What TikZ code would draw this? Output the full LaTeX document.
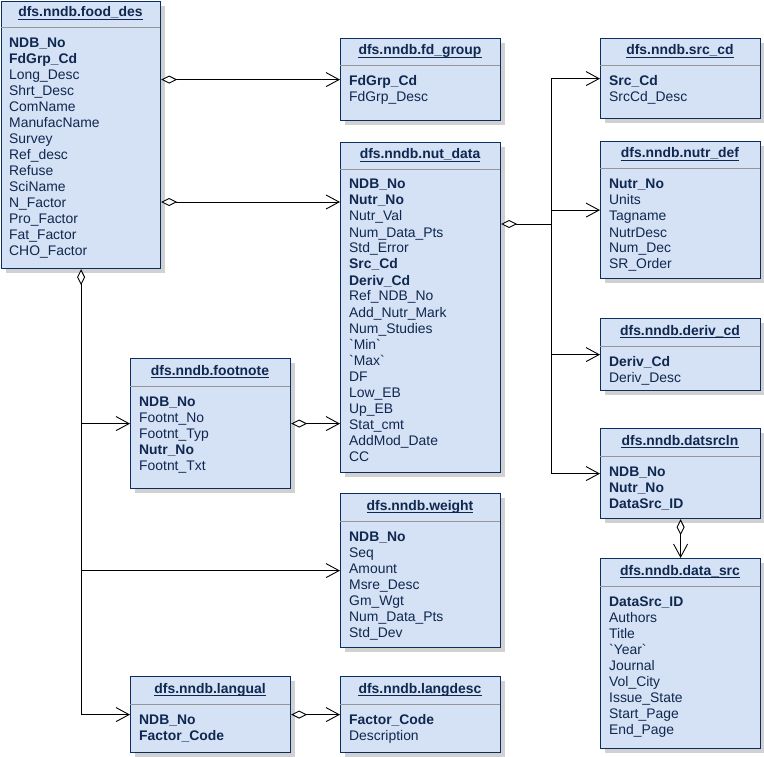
\documentclass[tikz,border=0pt]{standalone}
\usepackage{fontspec}
\setmainfont{Liberation Sans}
\usetikzlibrary{arrows.meta,shadows}
\definecolor{tblfill}{RGB}{213,225,244}
\definecolor{tbldraw}{RGB}{12,45,95}
\definecolor{tbltext}{RGB}{15,40,80}
\definecolor{tblsep}{RGB}{150,150,150}
\newcommand{\tblfont}{\fontsize{13.9}{16}\selectfont}
\tikzset{
  tbl/.style={draw=tbldraw, fill=tblfill, line width=1.2pt, inner sep=0pt, anchor=north west,
    drop shadow={shadow xshift=4pt, shadow yshift=-4pt, fill=black!18, opacity=1}},
  ttl/.style={anchor=base, inner sep=0pt, text=tbltext, font=\tblfont\bfseries},
  ttlline/.style={draw=tbltext, line width=0.8pt},
  fld/.style={anchor=base west, inner sep=0pt, text=tbltext, font=\tblfont},
  sepln/.style={draw=tblsep, line width=1pt},
  lnk/.style={draw=black, line width=0.9pt},
  assoc/.style={lnk, -{Straight Barb[length=13pt,width=14pt]}},
  aggr/.style={lnk, {Diamond[fill=white,length=16pt,width=8pt]}-{Straight Barb[length=13pt,width=14pt]}},
  aggrdot/.style={lnk, {Diamond[fill=white,length=16pt,width=8pt]}-},
}
\begin{document}
\begin{tikzpicture}[x=1pt, y=-1pt] % {{{
\pgfmathsetmacro{\rowstep}{16}
\useasboundingbox (0,0) rectangle (764,757);
\begin{scope}[shift={(1,1)}] % food_des {{{
\node[tbl, minimum width=159pt, minimum height=267pt] (fooddes) at (0,0) {};
\node[ttl] (fooddes-t) at (79.5,16) {dfs.nndb.food\_des};
\draw[ttlline] ([yshift=-2pt]fooddes-t.base west) -- ([yshift=-2pt]fooddes-t.base east);
\draw[sepln] (0,27) -- (159,27);
\foreach \f [count=\i from 0] in {\textbf{NDB\_No}, \textbf{FdGrp\_Cd}, Long\_Desc, Shrt\_Desc, ComName,
  ManufacName, Survey, Ref\_desc, Refuse, SciName, N\_Factor, Pro\_Factor, Fat\_Factor, CHO\_Factor}
  \node[fld] (fooddes-\i) at (8,47+\rowstep*\i) {\f};
\end{scope} % }}}
\begin{scope}[shift={(340,38)}] % fd_group {{{
\node[tbl, minimum width=160pt, minimum height=82pt] (fdgroup) at (0,0) {};
\node[ttl] (fdgroup-t) at (80,17) {dfs.nndb.fd\_group};
\draw[ttlline] ([yshift=-2pt]fdgroup-t.base west) -- ([yshift=-2pt]fdgroup-t.base east);
\draw[sepln] (0,28) -- (160,28);
\foreach \f [count=\i from 0] in {\textbf{FdGrp\_Cd}, FdGrp\_Desc}
  \node[fld] (fdgroup-\i) at (9,48+\rowstep*\i) {\f};
\end{scope} % }}}
\begin{scope}[shift={(340,142)}] % nut_data {{{
\node[tbl, minimum width=160pt, minimum height=330pt] (nutdata) at (0,0) {};
\node[ttl] (nutdata-t) at (80,17) {dfs.nndb.nut\_data};
\draw[ttlline] ([yshift=-2pt]nutdata-t.base west) -- ([yshift=-2pt]nutdata-t.base east);
\draw[sepln] (0,28) -- (160,28);
\foreach \f [count=\i from 0] in {\textbf{NDB\_No}, \textbf{Nutr\_No}, Nutr\_Val, Num\_Data\_Pts, Std\_Error,
  \textbf{Src\_Cd}, \textbf{Deriv\_Cd}, Ref\_NDB\_No, Add\_Nutr\_Mark, Num\_Studies,
  \textasciigrave{}Min\textasciigrave, \textasciigrave{}Max\textasciigrave, DF, Low\_EB, Up\_EB, Stat\_cmt, AddMod\_Date, CC}
  \node[fld] (nutdata-\i) at (9,47+\rowstep*\i) {\f};
\end{scope} % }}}
\begin{scope}[shift={(600,38)}] % src_cd {{{
\node[tbl, minimum width=160pt, minimum height=80pt] (srccd) at (0,0) {};
\node[ttl] (srccd-t) at (80,17) {dfs.nndb.src\_cd};
\draw[ttlline] ([yshift=-2pt]srccd-t.base west) -- ([yshift=-2pt]srccd-t.base east);
\draw[sepln] (0,28) -- (160,28);
\foreach \f [count=\i from 0] in {\textbf{Src\_Cd}, SrcCd\_Desc}
  \node[fld] (srccd-\i) at (9,48+\rowstep*\i) {\f};
\end{scope} % }}}
\begin{scope}[shift={(600,141)}] % nutr_def {{{
\node[tbl, minimum width=160pt, minimum height=137pt] (nutrdef) at (0,0) {};
\node[ttl] (nutrdef-t) at (80,17) {dfs.nndb.nutr\_def};
\draw[ttlline] ([yshift=-2pt]nutrdef-t.base west) -- ([yshift=-2pt]nutrdef-t.base east);
\draw[sepln] (0,28) -- (160,28);
\foreach \f [count=\i from 0] in {\textbf{Nutr\_No}, Units, Tagname, NutrDesc, Num\_Dec, SR\_Order}
  \node[fld] (nutrdef-\i) at (9,48+\rowstep*\i) {\f};
\end{scope} % }}}
\begin{scope}[shift={(600,318)}] % deriv_cd {{{
\node[tbl, minimum width=160pt, minimum height=72pt] (derivcd) at (0,0) {};
\node[ttl] (derivcd-t) at (80,17) {dfs.nndb.deriv\_cd};
\draw[ttlline] ([yshift=-2pt]derivcd-t.base west) -- ([yshift=-2pt]derivcd-t.base east);
\draw[sepln] (0,28) -- (160,28);
\foreach \f [count=\i from 0] in {\textbf{Deriv\_Cd}, Deriv\_Desc}
  \node[fld] (derivcd-\i) at (9,48+\rowstep*\i) {\f};
\end{scope} % }}}
\begin{scope}[shift={(600,428)}] % datsrcln {{{
\node[tbl, minimum width=160pt, minimum height=90pt] (datsrcln) at (0,0) {};
\node[ttl] (datsrcln-t) at (80,17) {dfs.nndb.datsrcln};
\draw[ttlline] ([yshift=-2pt]datsrcln-t.base west) -- ([yshift=-2pt]datsrcln-t.base east);
\draw[sepln] (0,28) -- (160,28);
\foreach \f [count=\i from 0] in {\textbf{NDB\_No}, \textbf{Nutr\_No}, \textbf{DataSrc\_ID}}
  \node[fld] (datsrcln-\i) at (9,48+\rowstep*\i) {\f};
\end{scope} % }}}
\begin{scope}[shift={(600,558)}] % data_src {{{
\node[tbl, minimum width=160pt, minimum height=190pt] (datasrc) at (0,0) {};
\node[ttl] (datasrc-t) at (80,17) {dfs.nndb.data\_src};
\draw[ttlline] ([yshift=-2pt]datasrc-t.base west) -- ([yshift=-2pt]datasrc-t.base east);
\draw[sepln] (0,28) -- (160,28);
\foreach \f [count=\i from 0] in {\textbf{DataSrc\_ID}, Authors, Title, \textasciigrave{}Year\textasciigrave,
  Journal, Vol\_City, Issue\_State, Start\_Page, End\_Page}
  \node[fld] (datasrc-\i) at (9,48+\rowstep*\i) {\f};
\end{scope} % }}}
\begin{scope}[shift={(130,358)}] % footnote {{{
\node[tbl, minimum width=160pt, minimum height=130pt] (footnote) at (0,0) {};
\node[ttl] (footnote-t) at (80,17) {dfs.nndb.footnote};
\draw[ttlline] ([yshift=-2pt]footnote-t.base west) -- ([yshift=-2pt]footnote-t.base east);
\draw[sepln] (0,28) -- (160,28);
\foreach \f [count=\i from 0] in {\textbf{NDB\_No}, Footnt\_No, Footnt\_Typ, \textbf{Nutr\_No}, Footnt\_Txt}
  \node[fld] (footnote-\i) at (9,48+\rowstep*\i) {\f};
\end{scope} % }}}
\begin{scope}[shift={(340,493)}] % weight {{{
\node[tbl, minimum width=160pt, minimum height=154pt] (weight) at (0,0) {};
\node[ttl] (weight-t) at (80,17) {dfs.nndb.weight};
\draw[ttlline] ([yshift=-2pt]weight-t.base west) -- ([yshift=-2pt]weight-t.base east);
\draw[sepln] (0,28) -- (160,28);
\foreach \f [count=\i from 0] in {\textbf{NDB\_No}, Seq, Amount, Msre\_Desc, Gm\_Wgt, Num\_Data\_Pts, Std\_Dev}
  \node[fld] (weight-\i) at (9,48+\rowstep*\i) {\f};
\end{scope} % }}}
\begin{scope}[shift={(130,676)}] % langual {{{
\node[tbl, minimum width=160pt, minimum height=76pt] (langual) at (0,0) {};
\node[ttl] (langual-t) at (80,17) {dfs.nndb.langual};
\draw[ttlline] ([yshift=-2pt]langual-t.base west) -- ([yshift=-2pt]langual-t.base east);
\draw[sepln] (0,28) -- (160,28);
\foreach \f [count=\i from 0] in {\textbf{NDB\_No}, \textbf{Factor\_Code}}
  \node[fld] (langual-\i) at (9,48+\rowstep*\i) {\f};
\end{scope} % }}}
\begin{scope}[shift={(340,676)}] % langdesc {{{
\node[tbl, minimum width=160pt, minimum height=76pt] (langdesc) at (0,0) {};
\node[ttl] (langdesc-t) at (80,17) {dfs.nndb.langdesc};
\draw[ttlline] ([yshift=-2pt]langdesc-t.base west) -- ([yshift=-2pt]langdesc-t.base east);
\draw[sepln] (0,28) -- (160,28);
\foreach \f [count=\i from 0] in {\textbf{Factor\_Code}, Description}
  \node[fld] (langdesc-\i) at (9,48+\rowstep*\i) {\f};
\end{scope} % }}}
% Conectores {{{
\coordinate (nutin) at ([yshift=-60pt]nutdata.north west);
\coordinate (nutout) at ([yshift=-82pt]nutdata.north east);
\coordinate (bus) at ([xshift=50pt]nutout);
\draw[aggr] (fooddes.east |- fdgroup.west) -- (fdgroup.west);
\draw[aggr] (fooddes.east |- nutin) -- (nutin);
\draw[aggr] (fooddes.south) -- (fooddes.south |- langual.west) -- (langual.west);
\draw[assoc] (fooddes.south |- footnote.west) -- (footnote.west);
\draw[assoc] (fooddes.south |- weight.west) -- (weight.west);
\draw[aggr] (footnote.east) -- (nutdata.west |- footnote.east);
\draw[aggr] (langual.east) -- (langdesc.west);
\draw[aggr] (datsrcln.south) -- (datasrc.north);
\draw[aggrdot] (nutout) -- (bus);
\draw[lnk] (bus |- srccd.west) -- (bus |- datsrcln.west);
\foreach \t in {srccd, nutrdef, derivcd, datsrcln}
  \draw[assoc] (bus |- \t.west) -- (\t.west);
% }}}
\end{tikzpicture} % }}}
\end{document}
